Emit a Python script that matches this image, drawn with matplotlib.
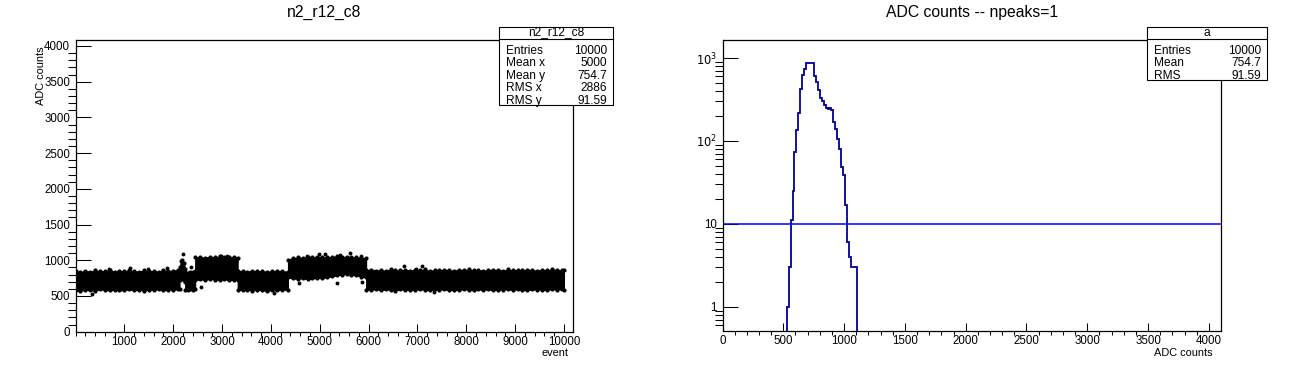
import numpy as np
import matplotlib.pyplot as plt
from matplotlib.ticker import MultipleLocator, FixedLocator, LogLocator, NullFormatter
from matplotlib.patches import Rectangle

plt.rcParams['font.family'] = ['Liberation Sans', 'DejaVu Sans']

# ---- left pad: ADC value vs event ----
# envelope (lower / upper edge) of the dense band of points
env_event = [0, 100, 200, 300, 400, 500, 600, 700, 800, 900, 1000, 1100, 1200,
             1300, 1400, 1500, 1600, 1700, 1800, 1900, 2000, 2100, 2130,
             2130, 2160, 2190, 2220, 2245,
             2245, 2300, 2350, 2400, 2450,
             2450, 2550, 2650, 2750, 2850, 2950, 3050, 3150, 3250, 3320,
             3320, 3420, 3520, 3620, 3720, 3820, 3920, 4020, 4120, 4220, 4350,
             4350, 4450, 4550, 4650, 4750, 4850, 4950, 5050, 5150, 5250, 5350,
             5450, 5550, 5650, 5750, 5850, 5950,
             5950, 6050, 6150, 6250, 6350, 6450, 6550, 6650, 6750, 6850, 6950,
             7050, 7150, 7250, 7350, 7450, 7550, 7650, 7750, 7850, 7950, 8050,
             8150, 8250, 8350, 8450, 8550, 8650, 8750, 8850, 8950, 9050, 9150,
             9250, 9350, 9450, 9550, 9650, 9750, 9850, 9950, 10000]
env_hi = [850, 835, 855, 840, 860, 845, 850, 865, 840, 855, 845, 860, 850,
          840, 858, 845, 850, 842, 862, 850, 855, 868, 860,
          900, 985, 1005, 960, 880,
          835, 820, 840, 830, 845,
          1040, 1045, 1035, 1050, 1040, 1055, 1045, 1040, 1050, 1035,
          845, 850, 840, 855, 845, 850, 838, 852, 845, 850, 840,
          1010, 1030, 1040, 1035, 1045, 1040, 1050, 1045, 1040, 1050, 1055,
          1045, 1050, 1040, 1045, 1035, 1030,
          860, 870, 855, 865, 850, 875, 860, 858, 870, 855, 865,
          860, 872, 850, 865, 858, 870, 862, 855, 868, 860, 872,
          858, 865, 850, 870, 862, 868, 855, 872, 860, 865, 858,
          870, 862, 855, 868, 860, 872, 865, 858, 862]
env_lo = [585, 570, 590, 580, 575, 595, 585, 580, 590, 578, 585, 592, 580,
          588, 575, 590, 585, 595, 580, 590, 588, 592, 595,
          720, 735, 745, 730, 700,
          590, 585, 595, 590, 600,
          720, 735, 725, 740, 730, 725, 735, 720, 730, 725,
          590, 580, 588, 575, 590, 582, 570, 585, 578, 590, 585,
          760, 745, 740, 750, 735, 745, 755, 750, 765, 775, 790,
          800, 805, 795, 790, 770, 760,
          590, 585, 598, 580, 592, 588, 575, 595, 585, 590, 582,
          596, 588, 578, 592, 586, 595, 580, 590, 584, 596, 588,
          582, 592, 586, 594, 580, 590, 588, 596, 584, 592, 586,
          580, 594, 588, 590, 584, 596, 588, 592, 590]

# isolated points outside the band
out_event = [345, 680, 1120, 1480, 1882, 2204, 2368, 2573, 2969, 3092, 4069,
             4575, 4746, 4978, 5115, 5354, 5408, 5627, 5853, 5867, 6734, 6980,
             7097, 7335]
out_adc = [532, 880, 898, 880, 898, 1093, 912, 630, 1055, 1065, 546,
           685, 1055, 1093, 1093, 685, 1075, 1098, 1066, 697, 920, 874,
           920, 551]

stats1_names = ['Entries', 'Mean x', 'Mean y', 'RMS x', 'RMS y']
stats1_vals = ['10000', '5000', '754.7', '2886', '91.59']

# ---- right pad: histogram of ADC counts ----
bin_width = 16
first_edge = 528
counts = [1, 3, 11, 25, 73, 135, 220, 420, 620, 730, 860, 860, 880, 860,
          600, 520, 410, 330, 300, 270, 250, 245, 250, 235, 170, 140, 105,
          80, 48, 39, 17, 6, 4, 3, 3, 3]
threshold = 10

stats2_names = ['Entries', 'Mean', 'RMS']
stats2_vals = ['10000', '754.7', '91.59']

W, H = 1296, 372
fig = plt.figure(figsize=(W / 100, H / 100), dpi=100)


def pad_axes(x0, y0, x1, y1):
    return fig.add_axes([x0 / W, 1 - y1 / H, (x1 - x0) / W, (y1 - y0) / H])


ax1 = pad_axes(75.5, 40, 573, 331.7)
ax2 = pad_axes(722.5, 40, 1220.5, 331)

for ax in (ax1, ax2):
    for s in ax.spines.values():
        s.set_linewidth(0.9)
    ax.tick_params(direction='in', top=False, right=False, labelsize=8.3,
                   width=0.75)

# left pad
ax1.fill_between(env_event, env_lo, env_hi, color='black', lw=0.8, edgecolor='black')
ax1.plot(env_event, env_hi, 'o', ms=3, color='black', mew=0)
ax1.plot(env_event, env_lo, 'o', ms=3, color='black', mew=0)
ax1.plot(out_event, out_adc, 'o', ms=2.8, color='black', mew=0)
ax1.set_xlim(0, 10185)
ax1.set_ylim(0, 4084)
ax1.xaxis.set_major_locator(FixedLocator(np.arange(1000, 10001, 1000)))
ax1.xaxis.set_minor_locator(MultipleLocator(200))
ax1.yaxis.set_major_locator(MultipleLocator(500))
ax1.yaxis.set_minor_locator(MultipleLocator(100))
ax1.tick_params(axis='x', which='major', length=5.8, pad=3)
ax1.tick_params(axis='x', which='minor', length=2.9, width=0.75)
ax1.tick_params(axis='y', which='major', length=11, pad=4)
ax1.tick_params(axis='y', which='minor', length=5.5, width=0.75)

# right pad
edges = first_edge + bin_width * np.arange(len(counts) + 1)
ax2.stairs(counts, edges, baseline=1e-3, color='#000099', lw=1.3)
ax2.axhline(threshold, color='#0000ff', lw=1.1)
ax2.set_yscale('log')
ax2.set_xlim(0, 4096)
ax2.set_ylim(0.51, 1650)
ax2.xaxis.set_major_locator(MultipleLocator(500))
ax2.xaxis.set_minor_locator(MultipleLocator(100))
ax2.yaxis.set_major_locator(FixedLocator([1, 10, 100, 1000]))
ax2.set_yticklabels(['1', '10', '$10^{2}$', '$10^{3}$'])
ax2.yaxis.set_minor_locator(LogLocator(subs=np.arange(2, 10)))
ax2.yaxis.set_minor_formatter(NullFormatter())
ax2.tick_params(axis='x', which='major', length=5.8, pad=3)
ax2.tick_params(axis='x', which='minor', length=2.9, width=0.75)
ax2.tick_params(axis='y', which='major', length=11, pad=4)
ax2.tick_params(axis='y', which='minor', length=5.5, width=0.75)

# overlay in pixel coordinates for titles, axis titles and stat boxes
ov = fig.add_axes([0, 0, 1, 1])
ov.set_xlim(0, W)
ov.set_ylim(H, 0)
ov.axis('off')

ov.text(324, 12, 'n2_r12_c8', ha='center', va='center', fontsize=11.3)
ov.text(972, 12, 'ADC counts -- npeaks=1', ha='center', va='center', fontsize=11.3)
ov.text(569, 353, 'event', ha='right', va='center', fontsize=7.9)
ov.text(1213, 353, 'ADC counts', ha='right', va='center', fontsize=7.9)
ov.text(41, 46, 'ADC counts', ha='center', va='top', rotation=90, fontsize=7.9)


def stat_box(x0, x1, y0, title, names, vals):
    row = 12.6
    y1 = 39 + row * len(names) + 3
    ov.add_patch(Rectangle((x0, y0), x1 - x0, y1 - y0, facecolor='white',
                           edgecolor='black', lw=0.8, zorder=5))
    ov.plot([x0, x1], [39, 39], color='black', lw=0.8, zorder=6)
    ov.text((x0 + x1) / 2, 32.5, title, ha='center', va='center', fontsize=8.6, zorder=7)
    for i, (n, v) in enumerate(zip(names, vals)):
        y = 50.5 + row * i
        ov.text(x0 + 7, y, n, ha='left', va='center', fontsize=8.6, zorder=7)
        ov.text(x1 - 6, y, v, ha='right', va='center', fontsize=8.6, zorder=7)


stat_box(499, 613, 27, 'n2_r12_c8', stats1_names, stats1_vals)
stat_box(1147, 1267, 27, 'a', stats2_names, stats2_vals)

fig.savefig('out.png', dpi=100)
